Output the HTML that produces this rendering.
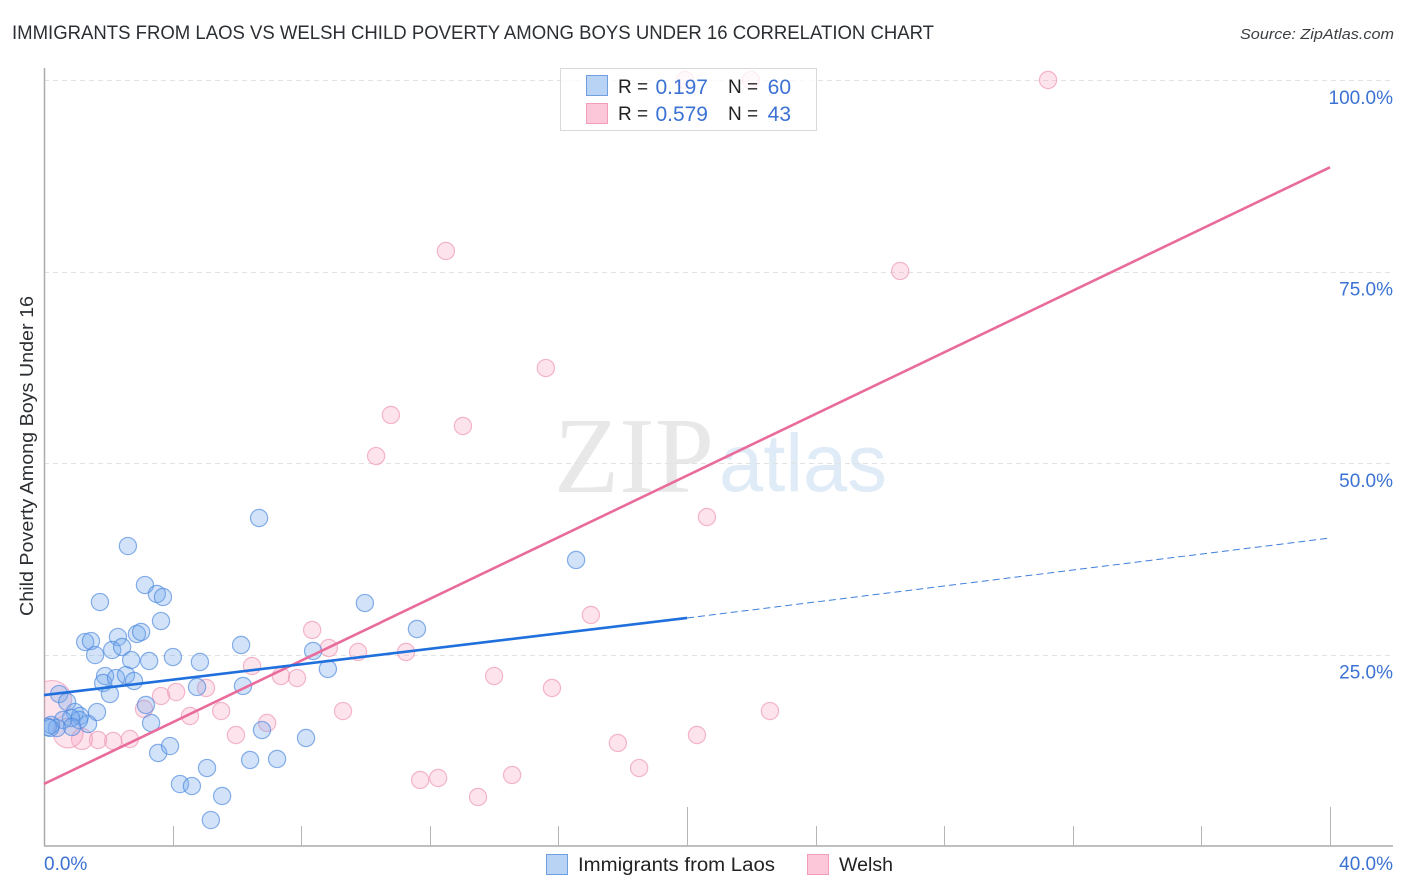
<!DOCTYPE html>
<html lang="en">
<head>
<meta charset="utf-8">
<title>Immigrants from Laos vs Welsh Child Poverty Among Boys Under 16 Correlation Chart</title>
<style>
html,body{margin:0;padding:0;background:#fff;width:1406px;height:892px;overflow:hidden}
svg{display:block}
text{font-family:"Liberation Sans",sans-serif}
</style>
</head>
<body>
<svg id="chart" width="1406" height="892" viewBox="0 0 1406 892">
  <defs>
    <clipPath id="plot-clip"><rect x="44" y="60" width="1349" height="786"/></clipPath>
  </defs>
  <text x="12" y="39" font-size="19.5" fill="#2b2f33" textLength="922" lengthAdjust="spacingAndGlyphs">IMMIGRANTS FROM LAOS VS WELSH CHILD POVERTY AMONG BOYS UNDER 16 CORRELATION CHART</text>
  <text x="1394" y="39" font-size="15" font-style="italic" fill="#3c4043" text-anchor="end" textLength="154" lengthAdjust="spacingAndGlyphs">Source: ZipAtlas.com</text>
  <text x="554" y="492" style="font-family:'Liberation Serif',serif" font-size="108" fill="#e8e8e8" textLength="160" lengthAdjust="spacingAndGlyphs">ZIP</text>
  <text x="719" y="491" font-size="82" fill="#e0ebf8" textLength="168" lengthAdjust="spacingAndGlyphs">atlas</text>
  <g id="grid"></g>
  <g id="axes"></g>
  <g id="pink-points" clip-path="url(#plot-clip)"></g>
  <g id="blue-points" clip-path="url(#plot-clip)"></g>
  <g id="trends"></g>
  <text transform="translate(33,456) rotate(-90)" font-size="18.5" fill="#2b2f33" text-anchor="middle" textLength="320" lengthAdjust="spacingAndGlyphs">Child Poverty Among Boys Under 16</text>

  <g>
    <rect x="560.5" y="68.5" width="256" height="62" fill="#fff" fill-opacity="0.78" stroke="#d9d9d9"/>
    <rect x="586.5" y="75.5" width="21" height="20" fill="#b9d3f5" stroke="#6f9fe0"/>
    <rect x="586.5" y="103.5" width="21" height="20" fill="#fcc8d9" stroke="#f29db9"/>
    <text x="618" y="93" font-size="19" fill="#222">R =</text>
    <text x="708" y="94" font-size="21" fill="#3b72d4" text-anchor="end">0.197</text>
    <text x="728" y="93" font-size="19" fill="#222">N =</text>
    <text x="791" y="94" font-size="21" fill="#3b72d4" text-anchor="end">60</text>
    <text x="618" y="120" font-size="19" fill="#222">R =</text>
    <text x="708" y="121" font-size="21" fill="#3b72d4" text-anchor="end">0.579</text>
    <text x="728" y="120" font-size="19" fill="#222">N =</text>
    <text x="791" y="121" font-size="21" fill="#3b72d4" text-anchor="end">43</text>
  </g>

  <g>
    <rect x="546.5" y="854.5" width="21" height="20" fill="#b9d3f5" stroke="#6f9fe0"/>
    <text x="578" y="871" font-size="19" fill="#222" textLength="197" lengthAdjust="spacingAndGlyphs">Immigrants from Laos</text>
    <rect x="807.5" y="854.5" width="21" height="20" fill="#fcc8d9" stroke="#f29db9"/>
    <text x="839" y="871" font-size="19" fill="#222" textLength="54" lengthAdjust="spacingAndGlyphs">Welsh</text>
  </g>
</svg>
<script>
const xTickValues = [4, 8, 12, 16, 20, 24, 28, 32, 36, 40];
const xLongTicks = [20, 40];
const xEndLabels = ["0.0%", "40.0%"];
const yTickValues = [25, 50, 75, 100];
const yTickLabels = ["25.0%", "50.0%", "75.0%", "100.0%"];

const laosX = [2.61,6.69,3.14,3.51,3.70,1.74,3.64,9.98,11.60,16.55,1.28,1.46,2.30,2.89,3.02,1.59,2.12,2.43,2.71,3.27,4.01,4.85,6.13,8.37,8.83,6.19,4.76,1.90,1.84,2.24,2.55,2.80,2.05,3.17,3.33,0.47,0.72,1.65,0.96,1.12,1.37,1.09,0.84,0.59,0.87,0.40,0.22,0.12,0.19,3.55,3.92,4.23,4.60,5.07,5.54,5.19,6.41,7.25,8.15,6.78];
const laosY = [39.16,42.82,34.07,32.90,32.51,31.85,29.37,31.72,28.33,37.34,26.63,26.76,27.28,27.68,27.94,24.93,25.59,25.98,24.28,24.15,24.67,24.02,26.24,25.46,23.11,20.89,20.76,22.19,21.28,21.93,22.32,21.54,19.84,18.41,16.06,19.84,18.80,17.49,17.49,16.97,15.93,16.45,16.71,16.45,15.54,15.40,15.80,15.54,15.40,12.14,13.05,8.09,7.83,10.18,6.53,3.39,11.23,11.36,14.10,15.14];

const welshX = [31.23,19.94,21.99,12.50,26.63,15.61,10.79,13.03,10.33,20.62,17.01,8.34,8.86,9.77,11.26,6.47,7.37,7.87,14.00,15.80,4.11,3.64,5.04,9.30,5.51,4.54,3.11,22.58,6.94,5.97,20.31,17.85,18.51,2.67,2.15,1.68,1.18,0.75,0.25,14.56,11.70,12.26,13.50];
const welshY = [100,100,100,77.68,75.07,62.40,56.27,54.83,50.91,42.95,30.16,28.20,25.85,25.33,25.33,23.50,22.19,21.93,22.19,20.63,20.10,19.58,20.63,17.62,17.62,16.97,17.89,17.62,16.06,14.49,14.49,13.45,10.18,13.97,13.71,13.84,13.97,14.75,19.06,9.27,8.62,8.88,6.40];
const welshWeights = [1,1,1,1,1,1,1,1,1,1,1,1,1,1,1,1,1,1,1,1,1,1,1,1,1,1,1,1,1,1,1,1,1,1,1,1,1.5,3,5.1,1,1,1,1];

const laosTrendSolidX = [0, 20];
const laosTrendSolidY = [19.7, 29.77];
const laosTrendDashX = [20, 40];
const laosTrendDashY = [29.77, 40.2];
const welshTrendX = [0, 40];
const welshTrendY = [8.1, 88.6];

const NS = 'http://www.w3.org/2000/svg';
function xScale(v){ return 44 + v * 32.15; }
function yScale(v){ return 846 - v * 7.66; }
function rScale(w){ return 8.6 * Math.sqrt(w); }
function make(tag, attrs, parent){
  const el = document.createElementNS(NS, tag);
  for (const k in attrs) el.setAttribute(k, attrs[k]);
  parent.appendChild(el);
  return el;
}
const gridG = document.getElementById('grid');
const axesG = document.getElementById('axes');
const pinkG = document.getElementById('pink-points');
const blueG = document.getElementById('blue-points');
const trendG = document.getElementById('trends');

yTickValues.forEach(function(v, i){
  const y = Math.round(yScale(v)) + 0.5;
  const line = make('line', {x1:44, x2:1393, y1:y, y2:y, stroke:'#e2e2e2', 'stroke-width':1, 'stroke-dasharray':'5 4'}, gridG);
  
  
  const t = make('text', {x:1393, y:yScale(v) + 24, 'font-size':19, fill:'#3b72d4', 'text-anchor':'end'}, axesG);
  
  
  t.textContent = yTickLabels[i];
});

const yAxis = make('line', {x1:44.5, x2:44.5, y1:68, y2:846, stroke:'#aaa', 'stroke-width':1.5}, axesG);


const xAxis = make('line', {x1:44, x2:1393, y1:846, y2:846, stroke:'#aaa', 'stroke-width':1.5}, axesG);



xTickValues.forEach(function(v){
  const x = Math.round(xScale(v)) + 0.5;
  const top = xLongTicks.includes(v) ? 807 : 826;
  const tick = make('line', {x1:x, x2:x, y1:top, y2:846, stroke:'#b5b5b5', 'stroke-width':1}, axesG);
  
  
});

const xLabelLeft = make('text', {x:44, y:870, 'font-size':19, fill:'#3b72d4'}, axesG);


xLabelLeft.textContent = xEndLabels[0];
const xLabelRight = make('text', {x:1393, y:870, 'font-size':19, fill:'#3b72d4', 'text-anchor':'end'}, axesG);


xLabelRight.textContent = xEndLabels[1];

welshX.forEach(function(v, i){
  const c = make('circle', {cx:xScale(v), cy:yScale(welshY[i]), r:rScale(welshWeights[i]), fill:'#f7a3bf', 'fill-opacity':0.3, stroke:'#ee9ab6', 'stroke-opacity':0.7, 'stroke-width':1.2}, pinkG);
  
  
});
laosX.forEach(function(v, i){
  const c = make('circle', {cx:xScale(v), cy:yScale(laosY[i]), r:rScale(1), fill:'#74a9ec', 'fill-opacity':0.32, stroke:'#4f8ade', 'stroke-opacity':0.68, 'stroke-width':1.2}, blueG);
  
  
});

const welshLine = make('line', {x1:xScale(welshTrendX[0]), y1:yScale(welshTrendY[0]), x2:xScale(welshTrendX[1]), y2:yScale(welshTrendY[1]), stroke:'#e96b9b', 'stroke-width':2.6}, trendG);


const laosLine = make('line', {x1:xScale(laosTrendSolidX[0]), y1:yScale(laosTrendSolidY[0]), x2:xScale(laosTrendSolidX[1]), y2:yScale(laosTrendSolidY[1]), stroke:'#1f6fdc', 'stroke-width':2.6}, trendG);


const laosDash = make('line', {x1:xScale(laosTrendDashX[0]), y1:yScale(laosTrendDashY[0]), x2:xScale(laosTrendDashX[1]), y2:yScale(laosTrendDashY[1]), stroke:'#3f7fdc', 'stroke-width':1, 'stroke-dasharray':'7 4'}, trendG);


</script>
</body>
</html>
